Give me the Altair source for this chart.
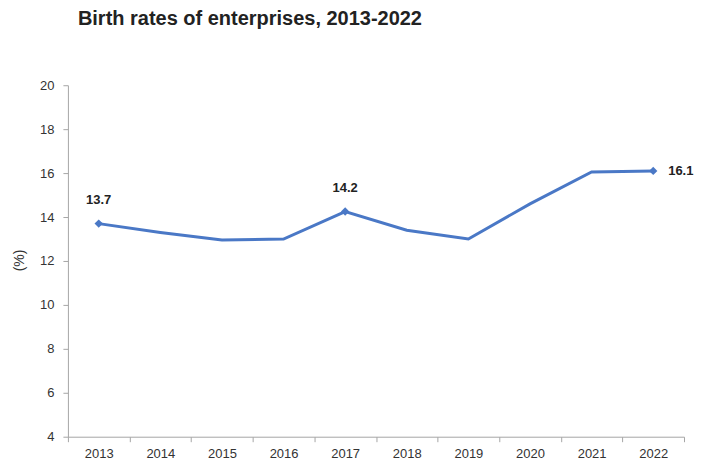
import altair as alt
import pandas as pd

years = ["2013", "2014", "2015", "2016", "2017", "2018", "2019", "2020", "2021", "2022"]
rates = [13.7, 13.3, 12.95, 13.0, 14.25, 13.4, 13.0, 14.6, 16.05, 16.1]
labels = ["13.7", "", "", "", "14.2", "", "", "", "", "16.1"]

df = pd.DataFrame({"year": years, "rate": rates, "label": labels})

blue = "#4a78c6"
font = "Liberation Sans"

x_enc = alt.X("year:N", bandPosition=0.5, sort=years,
              scale=alt.Scale(type="band", paddingInner=0, paddingOuter=0),
              axis=alt.Axis(title=None, labelAngle=0, tickBand="extent", labelFontSize=13,
                            labelColor="#333333", labelFont=font, domainColor="#a6a6a6",
                            tickColor="#a6a6a6", tickSize=5, labelPadding=6))
y_enc = alt.Y("rate:Q", scale=alt.Scale(domain=[4, 20], nice=False, zero=False),
              axis=alt.Axis(title="(%)", values=list(range(4, 21, 2)), grid=False,
                            labelFontSize=13, labelColor="#333333", labelFont=font,
                            labelPadding=9,
                            domainColor="#a6a6a6", tickColor="#a6a6a6", tickSize=5,
                            titleFont=font, titleFontSize=14, titleFontWeight="normal",
                            titleColor="#333333", titleX=-41, titleY=175))

base = alt.Chart(df)

line = base.mark_line(color=blue, strokeWidth=3).encode(x=x_enc, y=y_enc)

marks = base.transform_filter("datum.label != ''").mark_point(
    shape="diamond", filled=True, color=blue, size=70, opacity=1).encode(x=x_enc, y=y_enc)

lab_above = base.transform_filter("datum.label != '' && datum.year != '2022'").mark_text(
    dy=-24, fontSize=13, fontWeight="bold", font=font, color="#222222").encode(
    x=x_enc, y=y_enc, text="label:N")

lab_right = base.transform_filter("datum.year == '2022'").mark_text(
    dx=15, align="left", fontSize=13, fontWeight="bold", font=font, color="#222222").encode(
    x=x_enc, y=y_enc, text="label:N")

chart = alt.layer(line, marks, lab_above, lab_right).properties(
    width=617, height=352,
    title=alt.TitleParams("Birth rates of enterprises, 2013-2022", anchor="start", dx=65,
                          dy=8, offset=58, fontSize=20, font=font, fontWeight="bold",
                          color="#222222"),
    autosize=alt.AutoSizeParams(type="none"),
    padding={"left": 60, "top": 77, "right": 10, "bottom": 30},
).configure_view(stroke=None)

chart.save("out.html", embed_options={"renderer": "svg", "actions": False})
